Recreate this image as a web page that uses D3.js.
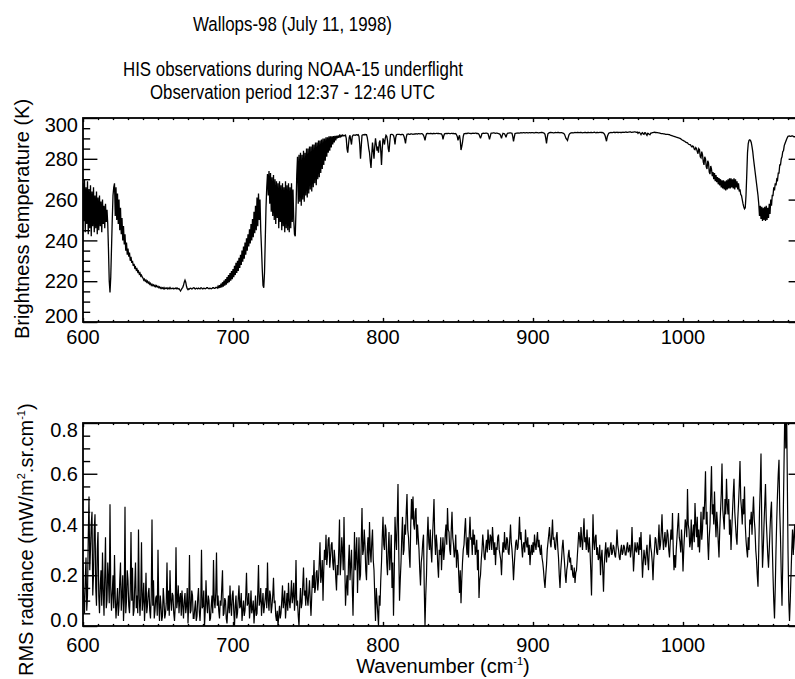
<!DOCTYPE html>
<html><head><meta charset="utf-8">
<script src="https://cdn.jsdelivr.net/npm/d3@7"></script>
<style>
body{margin:0;background:#fff}
svg{display:block}
text{font-family:"Liberation Sans",Arial,Helvetica,sans-serif;fill:#000}
</style>
</head><body>
<svg id="c" width="795" height="679"></svg>
<script>
// ---------------- DATA ----------------
const titleLines = ["Wallops-98 (July 11, 1998)", "HIS observations during NOAA-15 underflight", "Observation period 12:37 - 12:46 UTC"];
const tStart = 600, tStep = 0.5;   // wavenumber grid of brightness temperature (cm-1)
// Brightness temperature (K), 600..1075 cm-1, every 0.5 cm-1 (one row = 10 cm-1)
const brightnessT = [
268,250,270,244,266,248,269,243,265,246,267,242,264,247,266,244,262,246,264,243,
261,245,262,247,259,244,260,248,257,246,258,249,255,248,235,220,214.5,222,236,250,
262,266,268,252,266,250,263,248,260,245,256,243,251,240,247,238,243,235,239,233,
236,232,234,230,232,229,230,227.5,228.5,226.5,227,225.5,226,224.5,225,223.5,224,222.5,223,222,
221.5,220.5,221,220,220.5,219.5,220,219,219.5,218.5,219,218,218.5,217.8,218.2,217.5,218,217.3,217.8,217.2,
217.5,216.8,217.2,216.5,217,216.4,216.8,216.3,216.9,216.2,216.6,216.4,216.8,216.2,216.6,216.3,216.9,216.3,216.5,216.4,
216.6,216.2,216.5,216.4,216.7,216.3,216.6,216.2,216.4,215.8,215.2,215.8,216.5,217,218,219.5,220.5,219.5,217.5,216.3,
215.8,216.3,216.2,216.6,216.5,216.2,216.3,216.7,216.8,216.3,216.2,216.6,216.5,216.2,216.6,216.4,216.2,216.7,216.7,216.3,
216.3,216.6,216.5,216.3,216.4,216.8,216.8,216.4,216.3,216.6,216.5,216.3,216.4,216.8,216.8,216.5,216.5,217,217,216.6,
217.5,216.6,218,216.8,218.8,217,219.5,217.3,220.3,217.8,221,218.3,222,219,223,219.5,224,220.3,225,221,
226,222,227.5,223,229,224,230,225,231.5,226.5,233,228,235,229.5,237,231,239,233,241,235,
243,237,245.5,238.5,248,240,250.5,241.5,254,243.5,257,245,261,247,263,250,260,245,236,226,
218,216.8,224,240,256,266,272.5,262,274,258,273,254,271,252,272,250,270,248,269,251,
268,246,269,249,267,245,268,247,266,244,269,246,267,245,268,244,266,246,268,249,
265,250,243,242,255,272,281,258,282,259,283,257,282,260,284,259,283,262,285,261,
285,263,286,265,286,264,287,266,287,268,288,267,288,270,289,271,289,273,289.5,275,
290,277,290,279,290.5,281,290.5,283,291,284,291,285.5,291,287,291.2,288,291.3,289,291.3,290,
291.4,290.3,291.5,290.8,291.5,291,291.6,291.2,291.5,291.3,291.6,290,285,283,287,290.5,291.5,289,287,290.8,
291.5,291.7,291.6,291.5,291.7,291.8,291.6,291.8,291,287,280,286,291.5,291.7,291.8,291.7,292,291.8,291.8,290.5,
288,285,283,279,275.5,282,288,284,280,286,290,287,284,286,283,288,289,284,277,285,
290,289,287,290,291.5,291,289,285,283.3,288,291.8,292,292,291.8,291.5,290,287,290.5,291.8,292,
292,292,292,291.9,291.8,292,292,291.8,291,289.5,287.5,290.5,292,292.1,292.2,292,292,292.2,292.2,292.1,
292,292.1,292.2,292.1,292.3,292.2,292.1,292.3,292.3,292.2,292.2,292.3,292.3,292.1,291.5,290.5,289,291,292.3,292.4,
292.4,292.3,292.3,292.4,292.4,292.3,292.2,292.4,292.4,292.3,292.3,292.5,292.5,292.4,292.4,292.3,292.3,292.2,292.2,291.5,
289.5,291.2,292.3,292.4,292.5,292.4,292.4,292.5,292.5,292.3,292.3,292.5,292.5,292.4,292.4,292.3,292.2,292.4,291.8,291,
289,290.5,291.5,289,284.3,286,288,291,292.3,292.4,292.5,292.4,292.4,292.6,292.6,292.5,292.5,292.4,292.4,292.5,
292.6,292.5,292.5,292.6,292.6,292.4,292.4,292.3,292,291,290,291.2,292.4,292.5,292.6,292.5,292.5,292.6,292.6,292.5,
292.3,291,289.5,291,292.5,292.6,292.6,292.7,292.7,292.6,292.5,292.6,292.6,292.5,292.4,292.2,292,291.2,290,291.5,
292.5,292.4,292.3,291.5,290.5,291.8,292.5,292.6,292.6,292.7,292.7,292.6,292.5,291,288.5,290.5,292.4,292.5,292.6,292.6,
292.7,292.6,292.6,292.7,292.8,292.7,292.7,292.8,292.8,292.7,292.7,292.8,292.8,292.7,292.7,292.8,292.8,292.7,292.8,292.8,
292.8,292.7,292.7,292.8,292.9,292.8,292.8,292.7,292.7,292.8,292.8,292.9,292.9,292.8,292.7,292.5,292,290,287.6,290.5,
292.3,292.6,292.8,292.9,292.9,292.8,292.8,292.7,292.7,292.8,292.9,292.8,292.8,292.9,292.9,292.8,292.7,292.8,292.8,292.7,
292.6,292.4,292,291,290,289.5,289,290.5,291.8,292.3,292.6,292.7,292.8,292.7,292.7,292.8,292.9,292.8,292.8,292.9,
292.9,292.8,292.8,292.9,292.9,292.8,292.7,292.8,292.8,292.9,292.9,292.8,292.7,292.9,292.9,292.8,292.8,292.9,292.9,292.8,
292.8,292.9,293,292.8,292.7,292.9,292.9,292.8,292.8,293,293,292.9,292.9,292.8,292.6,292.2,291.5,290,288.6,290.8,
291.8,292.5,292.7,292.8,292.9,292.8,292.8,292.9,293,292.9,292.9,293,293.1,292.9,292.9,293,293,292.9,292.9,293,
293.1,293,293,293.1,293.2,293,293,293.1,293.1,293.2,293.2,293,293,293.1,293.1,293.2,293.2,293.1,293,293.1,
292.5,293,293,292.4,291.8,292.6,292.8,292.2,292,292.8,292.7,292,291.5,292.5,292.4,291.9,291.8,292.6,292.6,292.8,
292.8,292.9,293,292.9,292.9,292.8,292.8,292.7,292.7,292.6,292.5,292.4,292.3,292.3,292.2,292.2,292.1,292,292,292,
292,291.9,291.8,291.6,291.5,291.4,291.3,291.1,291,290.9,290.8,290.6,290.5,290.4,290.3,290.1,290,289.8,289.5,289.2,
289,288.8,288.7,288.3,288,287.9,287.8,287.3,287,286.9,286.8,286.2,285.8,286.3,286,284.8,284.5,285.5,285,283.5,
282.5,285,284.5,281,280.5,283.5,282,278.5,277,281,280,276,275,279,278,273.5,272.5,276.5,275,271.5,
273.5,270,273,269,272,268.5,271,267.5,270.5,267,270,266,269.5,265.5,269.5,265,269,264.5,269.5,265,
270,265.5,270.5,265.5,270.5,266,270,265.5,270.5,265,270,266,269,265,268,264,265,262.5,262,260,
258,256.5,255.5,256,262,272,283,287.5,289,289.3,289,288,286,283.5,280,277,274,271,268,265,
262,258,252,257,250.5,256.5,249.5,256,250,256.5,249.5,257,250,256,251,258,253,260,257,262,
262,266,264.5,268,267,270,269.5,273,273,277,277,280,281,283.5,284,286.5,287.5,288.5,289.5,290.3,
291,291.1,291.2,291,291,291.2,291.2,291,290.8,290.8,290.7
];
const rStart = 600, rStep = 0.5;   // wavenumber grid of RMS radiance (cm-1)
// RMS radiance (mW/m2.sr.cm-1), 600..1075 cm-1, every 0.5 cm-1 (one row = 10 cm-1)
const rmsRadiance = [
.25,.10,.05,.18,.27,.06,.12,.35,.51,.22,.30,.40,.45,.12,.20,.38,.44,.15,.08,.30,
.37,.12,.05,.16,.22,.08,.29,.14,.04,.20,.35,.07,.10,.25,.18,.09,.48,.15,.06,.13,
.20,.07,.28,.11,.03,.09,.15,.04,.08,.18,.25,.06,.12,.20,.02,.10,.47,.05,.10,.22,
.18,.08,.05,.14,.37,.10,.23,.04,.06,.16,.25,.07,.12,.05,.38,.11,.04,.12,.33,.06,
.10,.17,.02,.09,.21,.05,.08,.13,.15,.06,.03,.12,.42,.08,.18,.03,.06,.11,.12,.04,
.30,.09,.02,.12,.08,.02,.04,.15,.10,.03,.05,.09,.25,.06,.14,.04,.22,.10,.06,.13,
.12,.05,.02,.08,.31,.07,.10,.16,.05,.11,.13,.04,.14,.08,.03,.10,.13,.05,.08,.15,
.01,.09,.28,.05,.06,.14,.12,.03,.03,.07,.10,.02,.04,.11,.15,.06,.02,.08,.30,.07,
.08,.14,.00,.06,.18,.09,.05,.12,.10,.02,.03,.08,.12,.05,.26,.10,.07,.13,.29,.08,
.12,.06,.03,.10,.08,.15,.22,.04,.05,.11,.10,.03,.01,.07,.12,.05,.16,.08,.04,.12,
.14,.06,.00,.08,.12,.03,.05,.11,.16,.07,.08,.13,.02,.06,.10,.04,.06,.12,.21,.08,
.09,.13,.03,.07,.14,.05,.07,.10,.01,.06,.12,.04,.05,.13,.24,.08,.10,.15,.04,.09,
.13,.05,.08,.11,.15,.07,.25,.10,.06,.14,.12,.05,.08,.12,.19,.09,.10,.04,.02,.06,
.00,.04,.08,.03,.05,.10,.16,.07,.10,.14,.03,.08,.13,.06,.17,.10,.07,.12,.18,.09,
.12,.17,.06,.11,.26,.08,.10,.04,.00,.09,.15,.07,.09,.16,.23,.12,.14,.08,.19,.11,
.08,.13,.18,.10,.04,.12,.20,.15,.26,.13,.15,.21,.22,.14,.18,.25,.33,.17,.20,.26,
.10,.22,.30,.26,.36,.24,.28,.34,.35,.23,.27,.32,.33,.25,.22,.30,.26,.19,.14,.24,
.20,.30,.42,.20,.25,.35,.30,.22,.43,.25,.08,.15,.20,.12,.25,.32,.18,.24,.30,.16,
.04,.20,.37,.22,.28,.35,.13,.25,.35,.18,.20,.33,.465,.28,.30,.38,.32,.22,.18,.30,
.35,.24,.41,.30,.25,.33,.38,.26,.22,.12,.02,.15,.10,.05,.00,.12,.08,.18,.25,.35,
.43,.32,.30,.40,.38,.25,.20,.30,.37,.22,.28,.36,.15,.25,.04,.20,.43,.35,.30,.42,
.56,.30,.10,.18,.25,.35,.43,.28,.30,.40,.36,.45,.52,.38,.35,.28,.23,.40,.50,.42,
.51,.40,.38,.45,.465,.32,.40,.35,.30,.22,.16,.25,.28,.33,.36,.15,.00,.12,.20,.35,
.43,.33,.30,.38,.30,.25,.35,.42,.50,.35,.28,.36,.32,.24,.19,.30,.28,.35,.22,.30,
.35,.26,.30,.36,.40,.32,.465,.38,.37,.30,.28,.38,.45,.35,.32,.27,.30,.36,.23,.30,
.28,.20,.13,.22,.09,.18,.25,.30,.32,.38,.425,.33,.28,.35,.27,.36,.43,.34,.35,.28,
.38,.32,.36,.28,.30,.34,.22,.30,.11,.18,.20,.26,.30,.36,.32,.27,.26,.31,.34,.29,
.38,.33,.30,.36,.35,.30,.39,.34,.28,.33,.24,.31,.30,.35,.36,.30,.28,.26,.20,.28,
.33,.29,.37,.31,.30,.35,.34,.29,.28,.34,.40,.33,.30,.25,.18,.24,.29,.33,.34,.30,
.31,.36,.43,.34,.37,.31,.27,.32,.33,.29,.38,.33,.31,.35,.28,.32,.24,.29,.32,.28,
.33,.29,.36,.32,.30,.34,.37,.31,.34,.30,.28,.32,.27,.25,.22,.18,.15,.20,.24,.30,
.33,.36,.39,.33,.31,.36,.42,.34,.35,.31,.30,.35,.37,.31,.27,.20,.15,.22,.26,.31,
.34,.29,.25,.20,.17,.22,.24,.28,.30,.25,.27,.22,.24,.20,.19,.23,.17,.21,.22,.27,
.32,.37,.35,.31,.39,.34,.30,.36,.425,.33,.35,.30,.38,.32,.29,.35,.30,.22,.12,.28,
.44,.33,.30,.35,.36,.28,.31,.26,.27,.32,.20,.27,.30,.22,.135,.24,.29,.33,.25,.30,
.31,.27,.28,.31,.33,.28,.29,.32,.31,.28,.27,.31,.38,.32,.30,.27,.26,.30,.32,.28,
.29,.32,.31,.28,.28,.31,.33,.29,.30,.32,.27,.30,.39,.30,.215,.27,.33,.30,.29,.33,
.31,.28,.35,.30,.37,.28,.19,.25,.30,.27,.24,.29,.32,.26,.22,.30,.36,.31,.29,.25,
.18,.26,.30,.35,.34,.29,.28,.33,.40,.30,.32,.37,.44,.35,.30,.34,.37,.31,.33,.38,
.36,.30,.27,.33,.38,.34,.445,.30,.22,.28,.23,.30,.35,.40,.445,.35,.33,.29,.38,.32,
.215,.30,.36,.42,.40,.35,.54,.40,.38,.31,.33,.42,.30,.36,.40,.33,.485,.40,.35,.43,
.31,.38,.29,.36,.45,.34,.38,.47,.42,.50,.61,.40,.45,.33,.26,.35,.40,.52,.63,.44,
.48,.40,.53,.42,.35,.45,.40,.33,.27,.38,.45,.52,.64,.46,.42,.38,.50,.44,.58,.48,
.44,.50,.36,.42,.30,.38,.45,.52,.58,.45,.40,.35,.32,.42,.48,.55,.65,.50,.46,.40,
.50,.44,.55,.40,.34,.30,.27,.35,.30,.42,.40,.45,.36,.44,.51,.42,.38,.30,.26,.20,
.155,.30,.45,.55,.68,.40,.23,.30,.40,.48,.56,.42,.35,.28,.23,.30,.38,.45,.49,.32,
.20,.10,.03,.15,.30,.42,.52,.60,.655,.45,.35,.20,.08,.25,.50,.70,.90,.70,.90,.60,
.30,.10,.02,.10,.20,.30,.38,.28,.36,.40,.30
];
const xTickLabels = [600, 700, 800, 900, 1000];
const tTickLabels = [200, 220, 240, 260, 280, 300];
const rTickLabels = [0.0, 0.2, 0.4, 0.6, 0.8];

// ---------------- DRAW ----------------
const svg = d3.select("#c");
svg.append("rect").attr("width", 795).attr("height", 679).attr("fill", "#fff");
const defs = svg.append("defs");

const x = d3.scaleLinear().domain([600, 1080]).range([83, 803]);
const yT = d3.scaleLinear().domain([200, 300]).range([322, 118]);
const yR = d3.scaleLinear().domain([0, 0.8]).range([626, 423]);

// titles (narrow Helvetica look -> compress with textLength)
const tl = [[292.5, 31, 199, 20.5], [293, 76, 340, 20], [292.5, 98.5, 285, 20]];
titleLines.forEach((t, i) => {
  svg.append("text").attr("x", tl[i][0]).attr("y", tl[i][1])
    .attr("text-anchor", "middle").attr("font-size", tl[i][3])
    .attr("textLength", tl[i][2]).attr("lengthAdjust", "spacingAndGlyphs").text(t);
});

function panel(name, y, vals, start, step, majorY, minorStep, fmt, xLabelBaseline, sw) {
  const [yb, yt] = y.range();
  const xl = 83, xr = 803;
  defs.append("clipPath").attr("id", "clip-" + name)
    .append("rect").attr("x", xl).attr("y", yt).attr("width", xr - xl).attr("height", yb - yt);
  const pts = vals.map((v, i) => [start + i * step, v]);
  svg.append("path").datum(pts)
    .attr("clip-path", `url(#clip-${name})`)
    .attr("fill", "none").attr("stroke", "#000").attr("stroke-width", sw)
    .attr("stroke-linejoin", "miter").attr("stroke-miterlimit", 3)
    .attr("d", d3.line().x(d => x(d[0])).y(d => y(d[1])));

  const yd = y.domain();
  const minorY = d3.range(yd[0], yd[1] + 1e-9, minorStep).filter(v => !majorY.some(m => Math.abs(m - v) < 1e-9));
  const majorX = d3.range(600, 1081, 100), minorX = d3.range(600, 1081, 10).filter(v => v % 100 !== 0);
  const tickStyle = g => { g.select(".domain").remove(); g.selectAll("line").attr("stroke", "#000").attr("stroke-width", 1.4); };
  const ax = (axis, tx, ty) => svg.append("g").attr("transform", `translate(${tx},${ty})`).call(axis).call(tickStyle);
  ax(d3.axisLeft(y).tickValues(majorY).tickSize(-14.4).tickFormat(""), xl, 0);
  ax(d3.axisLeft(y).tickValues(minorY).tickSize(-7.2).tickFormat(""), xl, 0);
  ax(d3.axisRight(y).tickValues(majorY).tickSize(-14.4).tickFormat(""), xr, 0);
  ax(d3.axisRight(y).tickValues(minorY).tickSize(-7.2).tickFormat(""), xr, 0);
  ax(d3.axisBottom(x).tickValues(majorX).tickSize(-4.1).tickFormat(""), 0, yb);
  ax(d3.axisBottom(x).tickValues(minorX).tickSize(-2.1).tickFormat(""), 0, yb);
  ax(d3.axisTop(x).tickValues(majorX).tickSize(-4.1).tickFormat(""), 0, yt);
  ax(d3.axisTop(x).tickValues(minorX).tickSize(-2.1).tickFormat(""), 0, yt);
  svg.append("rect").attr("x", xl).attr("y", yt).attr("width", xr - xl).attr("height", yb - yt)
    .attr("fill", "none").attr("stroke", "#000").attr("stroke-width", 1.8);
  majorY.forEach(v => {
    const cy = Math.min(Math.max(y(v), yt + 6.5), yb - 6.5);
    svg.append("text").attr("x", 78).attr("y", cy).attr("dy", "0.36em")
      .attr("text-anchor", "end").attr("font-size", 20).text(fmt(v));
  });
  xTickLabels.forEach(v => {
    svg.append("text").attr("x", x(v)).attr("y", xLabelBaseline)
      .attr("text-anchor", "middle").attr("font-size", 20).text(v);
  });
}

panel("t", yT, brightnessT, tStart, tStep, tTickLabels, 5, d3.format("d"), 344, 1.3);
panel("r", yR, rmsRadiance, rStart, rStep, rTickLabels, 0.05, d3.format(".1f"), 652, 1.2);

// axis titles
svg.append("text").attr("transform", "translate(29,339) rotate(-90)")
  .attr("font-size", 20).attr("text-anchor", "start").text("Brightness temperature (K)");

const rt = svg.append("text").attr("transform", "translate(33,676) rotate(-90)")
  .attr("font-size", 20).attr("text-anchor", "start");
rt.append("tspan").text("RMS radiance (mW/m");
rt.append("tspan").attr("font-size", 11).attr("dy", -8).text("2");
rt.append("tspan").attr("dy", 8).text(".sr.cm");
rt.append("tspan").attr("font-size", 11).attr("dy", -8).text("-1");
rt.append("tspan").attr("dy", 8).text(")");

const xt = svg.append("text").attr("x", 443).attr("y", 673)
  .attr("font-size", 20).attr("text-anchor", "middle");
xt.append("tspan").text("Wavenumber (cm");
xt.append("tspan").attr("font-size", 11).attr("dy", -8).text("-1");
xt.append("tspan").attr("dy", 8).text(")");
</script>
</body></html>
